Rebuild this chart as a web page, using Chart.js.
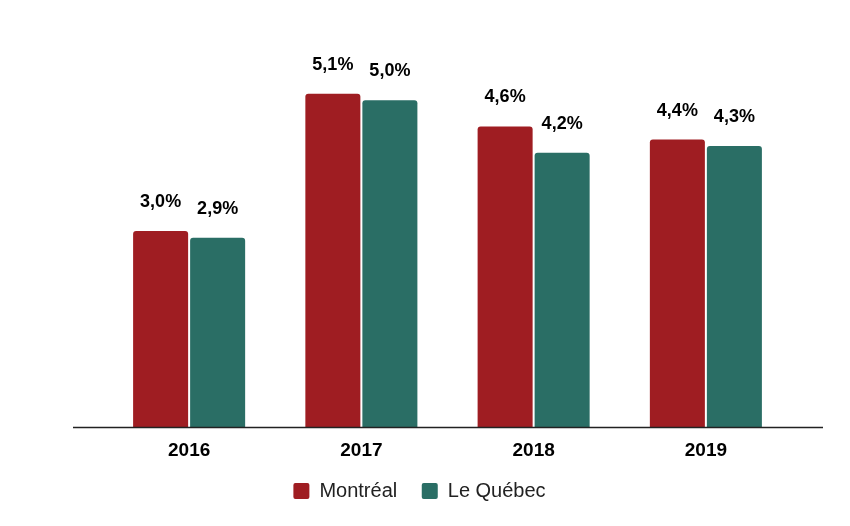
<!DOCTYPE html>
<html>
<head>
<meta charset="utf-8">
<script src="https://cdn.jsdelivr.net/npm/chart.js@4"></script>
<style>
html,body{margin:0;padding:0;background:#fff;}
#wrap{width:850px;height:526px;position:relative;}
</style>
</head>
<body>
<div id="wrap"><canvas id="c"></canvas></div>
<script>
const categories = ['2016', '2017', '2018', '2019'];
const montreal = [3.0, 5.1, 4.6, 4.4];
const quebec = [2.9, 5.0, 4.2, 4.3];
const seriesNames = ['Montréal', 'Le Québec'];

const FONT = "'Liberation Sans', Arial, sans-serif";

const fmt = v => v.toFixed(1).replace('.', ',') + '%';

const labelPlugin = {
  id: 'valueLabels',
  afterDatasetsDraw(chart) {
    const ctx = chart.ctx;
    ctx.save();
    ctx.font = 'bold 18px ' + FONT;
    ctx.fillStyle = '#000';
    ctx.textAlign = 'center';
    ctx.textBaseline = 'middle';
    chart.data.datasets.forEach((ds, i) => {
      chart.getDatasetMeta(i).data.forEach((bar, j) => {
        ctx.fillText(fmt(ds.data[j]), bar.x, bar.y - 29);
      });
    });
    ctx.restore();
  }
};

const baselinePlugin = {
  id: 'baseline',
  afterDatasetsDraw(chart) {
    const ctx = chart.ctx;
    const y = chart.scales.y.getPixelForValue(0);
    ctx.save();
    ctx.strokeStyle = '#222';
    ctx.lineWidth = 1.5;
    ctx.beginPath();
    ctx.moveTo(73, Math.round(y) + 0.5);
    ctx.lineTo(823, Math.round(y) + 0.5);
    ctx.stroke();
    ctx.restore();
  }
};

new Chart(document.getElementById('c'), {
  type: 'bar',
  data: {
    labels: categories,
    datasets: [
      { label: seriesNames[0], data: montreal, backgroundColor: '#9f1d22',
        borderRadius: {topLeft: 3, topRight: 3}, borderSkipped: 'bottom' },
      { label: seriesNames[1], data: quebec, backgroundColor: '#2a6e65',
        borderRadius: {topLeft: 3, topRight: 3}, borderSkipped: 'bottom' }
    ]
  },
  options: {
    responsive: true,
    maintainAspectRatio: false,
    animation: false,
    layout: { padding: { left: 47, right: 58, top: 35, bottom: 15 } },
    datasets: { bar: { categoryPercentage: 0.662, barPercentage: 0.965 } },
    scales: {
      x: {
        grid: { display: false },
        border: { display: false },
        ticks: { color: '#000', font: { family: FONT, size: 19, weight: 'bold' }, padding: 4 }
      },
      y: {
        display: true,
        min: 0,
        max: 6,
        grid: { display: false },
        border: { display: false },
        ticks: { display: false },
        afterFit(s) { s.width = 56; }
      }
    },
    plugins: {
      legend: {
        position: 'bottom',
        labels: {
          color: '#222',
          font: { family: FONT, size: 20 },
          boxWidth: 16,
          boxHeight: 16,
          useBorderRadius: true,
          borderRadius: 2,
          padding: 15,
          generateLabels(chart) {
            const items = Chart.defaults.plugins.legend.labels.generateLabels(chart);
            items.forEach((it, i) => { if (i === 0) it.text = it.text + ' \u2009'; });
            return items;
          }
        }
      },
      tooltip: { enabled: false }
    }
  },
  plugins: [labelPlugin, baselinePlugin]
});
</script>
</body>
</html>
